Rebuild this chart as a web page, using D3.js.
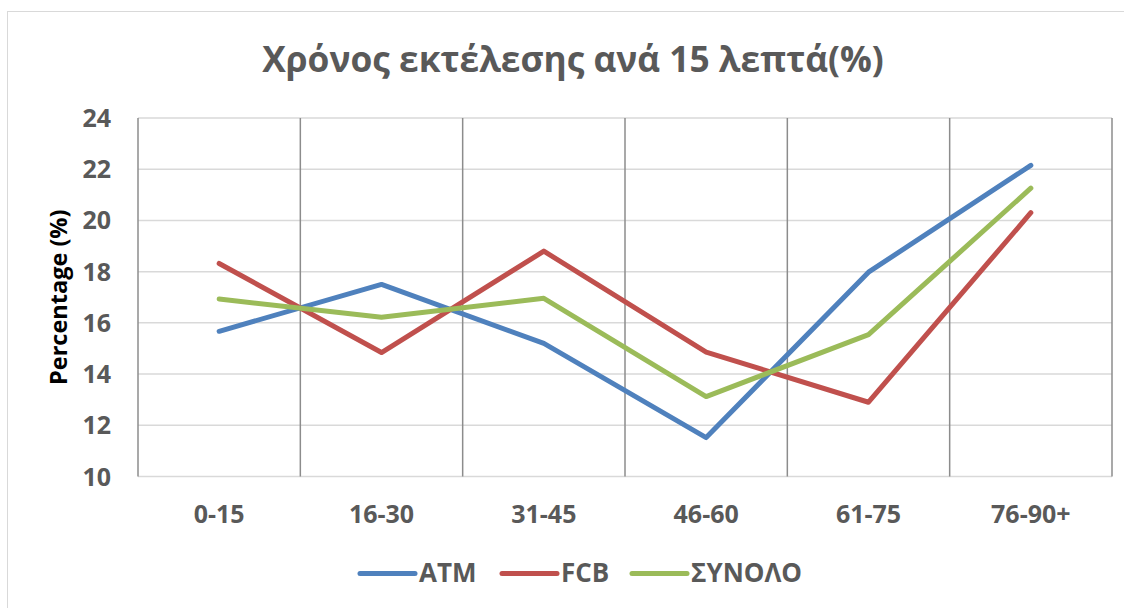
<!DOCTYPE html>
<html>
<head>
<meta charset="utf-8">
<script src="https://cdn.jsdelivr.net/npm/d3@7"></script>
<style>
  body { margin: 0; background: #fff; }
  text { font-family: "Open Sans", Lato, sans-serif; font-weight: bold; }
</style>
</head>
<body>
<div id="chart"></div>
<script>
// données du graphique
const categories = ["0-15", "16-30", "31-45", "46-60", "61-75", "76-90+"];
const atm = [15.67, 17.5, 15.2, 11.52, 17.98, 22.15];
const fcb = [18.32, 14.84, 18.8, 14.86, 12.9, 20.3];
const synolo = [16.93, 16.22, 16.96, 13.12, 15.54, 21.26];
const yTicks = [10, 12, 14, 16, 18, 20, 22, 24];

const series = [
  { name: "ATM", values: atm, color: "#4f81bd" },
  { name: "FCB", values: fcb, color: "#c0504d" },
  { name: "ΣΥΝΟΛΟ", values: synolo, color: "#9bbb59" }
];

const width = 1124, height = 608;
const margin = { left: 138, right: 12, top: 118, bottom: 132 };

const svg = d3.select("#chart").append("svg")
  .attr("width", width)
  .attr("height", height);

// cadre du graphique
svg.append("rect")
  .attr("x", 7.5).attr("y", 11.5)
  .attr("width", width - 4).attr("height", height)
  .attr("fill", "none")
  .attr("stroke", "#d9d9d9");

const x = d3.scaleBand()
  .domain(categories)
  .range([margin.left, width - margin.right])
  .padding(0);

const y = d3.scaleLinear()
  .domain([10, 24])
  .range([height - margin.bottom + 0.5, margin.top]);

// grille horizontale
svg.append("g")
  .selectAll("line")
  .data(yTicks)
  .enter()
  .append("line")
  .attr("x1", margin.left).attr("x2", width - margin.right)
  .attr("y1", d => y(d)).attr("y2", d => y(d))
  .attr("stroke", "#d9d9d9")
  .attr("stroke-width", 1.5);

// grille verticale (limites des catégories)
const bornes = categories.map(c => x(c)).concat([width - margin.right]);
svg.append("g")
  .selectAll("line")
  .data(bornes)
  .enter()
  .append("line")
  .attr("x1", d => d).attr("x2", d => d)
  .attr("y1", y(24)).attr("y2", y(10))
  .attr("stroke", "#8c8c8c")
  .attr("stroke-width", 1.5);

// étiquettes de l'axe Y
svg.append("g")
  .selectAll("text")
  .data(yTicks)
  .enter()
  .append("text")
  .attr("x", 111)
  .attr("y", d => y(d))
  .attr("dy", "0.36em")
  .attr("text-anchor", "end")
  .attr("fill", "#595959")
  .style("font-size", "25px")
  .text(d => d);

// étiquettes des catégories
svg.append("g")
  .selectAll("text")
  .data(categories)
  .enter()
  .append("text")
  .attr("x", d => x(d) + x.bandwidth() / 2)
  .attr("y", 523)
  .attr("text-anchor", "middle")
  .attr("fill", "#595959")
  .style("font-size", "25px")
  .text(d => d);

// titre de l'axe Y
svg.append("text")
  .attr("transform", `translate(67, ${(y(10) + y(24)) / 2}) rotate(-90)`)
  .attr("text-anchor", "middle")
  .attr("fill", "#000")
  .style("font-size", "23.5px")
  .text("Percentage (%)");

// titre
svg.append("text")
  .attr("x", 573)
  .attr("y", 72)
  .attr("text-anchor", "middle")
  .attr("fill", "#595959")
  .style("font-size", "35.3px")
  .text("Χρόνος εκτέλεσης ανά 15 λεπτά(%)");

// lignes
const ligne = d3.line()
  .x((d, i) => x(categories[i]) + x.bandwidth() / 2)
  .y(d => y(d));

svg.append("g")
  .selectAll("path")
  .data(series)
  .enter()
  .append("path")
  .attr("d", d => ligne(d.values))
  .attr("fill", "none")
  .attr("stroke", d => d.color)
  .attr("stroke-width", 5)
  .attr("stroke-linecap", "round")
  .attr("stroke-linejoin", "round");

// légende
const legendX = [360, 502, 632];
const legende = svg.append("g")
  .selectAll("g")
  .data(series)
  .enter()
  .append("g")
  .attr("transform", (d, i) => `translate(${legendX[i]}, 573.5)`);

legende.append("line")
  .attr("x1", 0).attr("x2", 55)
  .attr("stroke", d => d.color)
  .attr("stroke-width", 5)
  .attr("stroke-linecap", "round");

legende.append("text")
  .attr("x", 59)
  .attr("y", 8.5)
  .attr("fill", "#595959")
  .style("font-size", "26px")
  .text(d => d.name);
</script>
</body>
</html>
